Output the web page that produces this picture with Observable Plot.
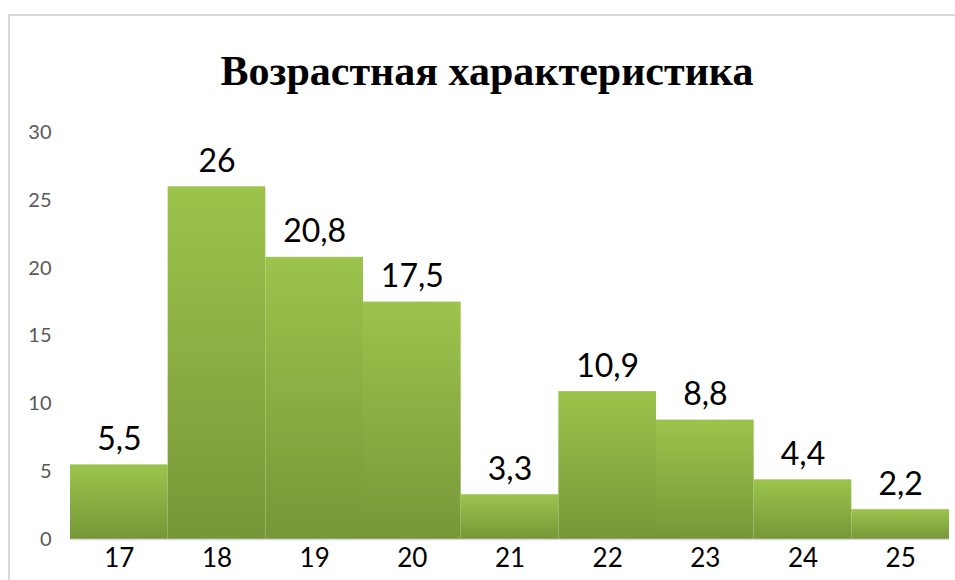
<!DOCTYPE html>
<html><head><meta charset="utf-8">
<script src="https://cdn.jsdelivr.net/npm/d3@7"></script>
<script src="https://cdn.jsdelivr.net/npm/@observablehq/plot@0.6"></script>
<style>
body{margin:0;background:#fff;}
#wrap{position:relative;width:955px;height:580px;overflow:hidden;}
#border{position:absolute;left:8px;top:14px;width:1000px;height:700px;border:2px solid #d9d9d9;box-sizing:border-box;}
#title{position:absolute;left:0;width:974px;top:46px;text-align:center;font-family:"Liberation Serif","Times New Roman","DejaVu Serif",serif;font-weight:bold;font-size:42px;line-height:1.2;color:#000;}
#chart{position:absolute;left:0;top:0;}
</style></head>
<body>
<div id="wrap"><div id="border"></div><div id="chart"></div><div id="title">Возрастная характеристика</div></div>
<script>
const ages = ["17","18","19","20","21","22","23","24","25"];
const shares = [5.5, 26, 20.8, 17.5, 3.3, 10.9, 8.8, 4.4, 2.2];
const yTicks = [0, 5, 10, 15, 20, 25, 30];

const data = ages.map((a, i) => ({age: a, value: shares[i]}));
const fmt = v => String(v).replace(".", ",");

const chart = Plot.plot({
  width: 955,
  height: 580,
  marginLeft: 70,
  marginRight: 6,
  marginTop: 132,
  marginBottom: 41,
  style: {background: "transparent", fontFamily: "Lato, sans-serif"},
  x: {domain: ages, padding: 0, round: false, label: null, tickSize: 0, tickPadding: 9},
  y: {domain: [0, 30], ticks: yTicks, label: null, tickSize: 0, tickPadding: 19},
  marks: [
    Plot.barY(data, {x: "age", y: "value", fill: "url(#barGrad)", inset: 0}),
    Plot.ruleY([0], {stroke: "#d9d9d9", strokeWidth: 1.5}),
    Plot.text(data, {x: "age", y: "value", text: d => fmt(d.value), lineAnchor: "bottom", dy: -15, fontSize: 32, fill: "#000"})
  ]
});

const ns = "http://www.w3.org/2000/svg";
const defs = document.createElementNS(ns, "defs");
const grad = document.createElementNS(ns, "linearGradient");
grad.setAttribute("id", "barGrad");
grad.setAttribute("x1", "0"); grad.setAttribute("y1", "0");
grad.setAttribute("x2", "0"); grad.setAttribute("y2", "1");
[["0", "#9cc44c"], ["1", "#779738"]].forEach(([o, c]) => {
  const s = document.createElementNS(ns, "stop");
  s.setAttribute("offset", o); s.setAttribute("stop-color", c);
  grad.appendChild(s);
});
defs.appendChild(grad);
chart.insertBefore(defs, chart.firstChild);

chart.querySelectorAll('g[aria-label="x-axis tick label"] text, g[aria-label="x-axis"] text').forEach(t => { t.style.fontSize = "26px"; t.style.fill = "#000"; });
chart.querySelectorAll('g[aria-label="y-axis tick label"] text, g[aria-label="y-axis"] text').forEach(t => { t.style.fontSize = "20px"; t.style.fill = "#595959"; });

document.getElementById("chart").appendChild(chart);
</script>
</body></html>
